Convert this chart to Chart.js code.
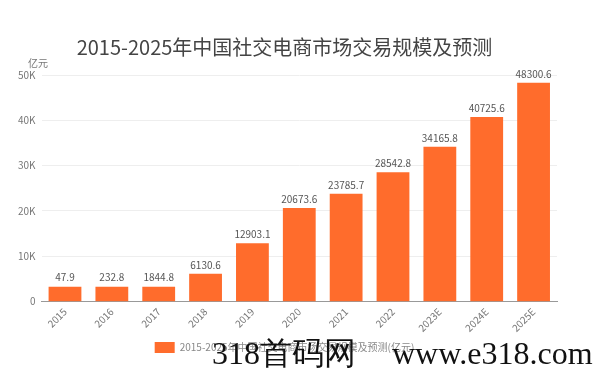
<!DOCTYPE html>
<html>
<head>
<meta charset="utf-8">
<script src="https://cdn.jsdelivr.net/npm/chart.js@4"></script>
<style>
  html, body { margin: 0; padding: 0; background: #fff; }
  #wrap { position: relative; width: 599px; height: 373px; }
  #watermark {
    position: absolute;
    left: 212px;
    top: 333px;
    font-family: "Liberation Serif", "DejaVu Serif", serif;
    font-size: 32px;
    color: #111;
    white-space: nowrap;
    line-height: 40px;
  }
  #watermark .url { letter-spacing: 0; margin-left: 36px; }
</style>
</head>
<body>
<div id="wrap">
  <canvas id="chart" width="599" height="373"></canvas>
  <div id="watermark">318首码网<span class="url">www.e318.com</span></div>
</div>
<script>
const years = ["2015", "2016", "2017", "2018", "2019", "2020", "2021", "2022", "2023E", "2024E", "2025E"];
const tradeScale = [47.9, 232.8, 1844.8, 6130.6, 12903.1, 20673.6, 23785.7, 28542.8, 34165.8, 40725.6, 48300.6];
const yTicks = [0, 10000, 20000, 30000, 40000, 50000];

const titleText = "2015-2025年中国社交电商市场交易规模及预测";
const seriesName = "2015-2025年中国社交电商市场交易规模及预测(亿元)";
const unitText = "亿元";

const fontFamily = "'Noto Sans CJK SC', 'Noto Sans', sans-serif";

// value labels above each bar + unit text above the y axis
const barLabels = {
  id: "barLabels",
  afterDatasetsDraw(chart) {
    const ctx = chart.ctx;
    const meta = chart.getDatasetMeta(0);
    ctx.save();
    ctx.font = "10px " + fontFamily;
    ctx.fillStyle = "#555";
    ctx.textAlign = "center";
    ctx.textBaseline = "bottom";
    meta.data.forEach((bar, i) => {
      ctx.fillText(String(tradeScale[i]), bar.x, bar.y - 4);
    });
    ctx.fillStyle = "#777";
    ctx.textAlign = "left";
    ctx.fillText(unitText, 28, chart.chartArea.top - 7);
    ctx.restore();
  },
};

new Chart(document.getElementById("chart"), {
  type: "bar",
  data: {
    labels: years,
    datasets: [
      {
        label: seriesName,
        data: tradeScale,
        backgroundColor: "#FF6C2C",
        borderWidth: 0,
        categoryPercentage: 0.7,
        barPercentage: 1,
        minBarLength: 15,
      },
    ],
  },
  options: {
    responsive: false,
    animation: false,
    layout: { padding: { top: 35, left: 12, right: 42, bottom: 10 } },
    plugins: {
      title: {
        display: true,
        text: titleText,
        color: "#444",
        font: { size: 20, family: fontFamily, weight: "normal" },
        padding: { top: 0, bottom: 16 },
      },
      legend: {
        position: "bottom",
        labels: {
          color: "#888",
          boxWidth: 20,
          boxHeight: 11,
          padding: 4,
          font: { size: 10, family: fontFamily },
        },
      },
      tooltip: { enabled: false },
    },
    scales: {
      x: {
        grid: { display: false, drawTicks: false },
        border: { color: "#999" },
        ticks: {
          color: "#777",
          font: { size: 10, family: fontFamily },
          minRotation: 45,
          maxRotation: 45,
          padding: 4,
        },
      },
      y: {
        min: 0,
        max: 50000,
        afterBuildTicks: (axis) => {
          axis.ticks = yTicks.map((v) => ({ value: v }));
        },
        grid: { color: "#eee", drawTicks: false },
        border: { display: false },
        ticks: {
          color: "#777",
          font: { size: 10, family: fontFamily },
          padding: 6,
          callback: (v) => (v === 0 ? "0" : v / 1000 + "K"),
        },
      },
    },
  },
  plugins: [barLabels],
});
</script>
</body>
</html>
